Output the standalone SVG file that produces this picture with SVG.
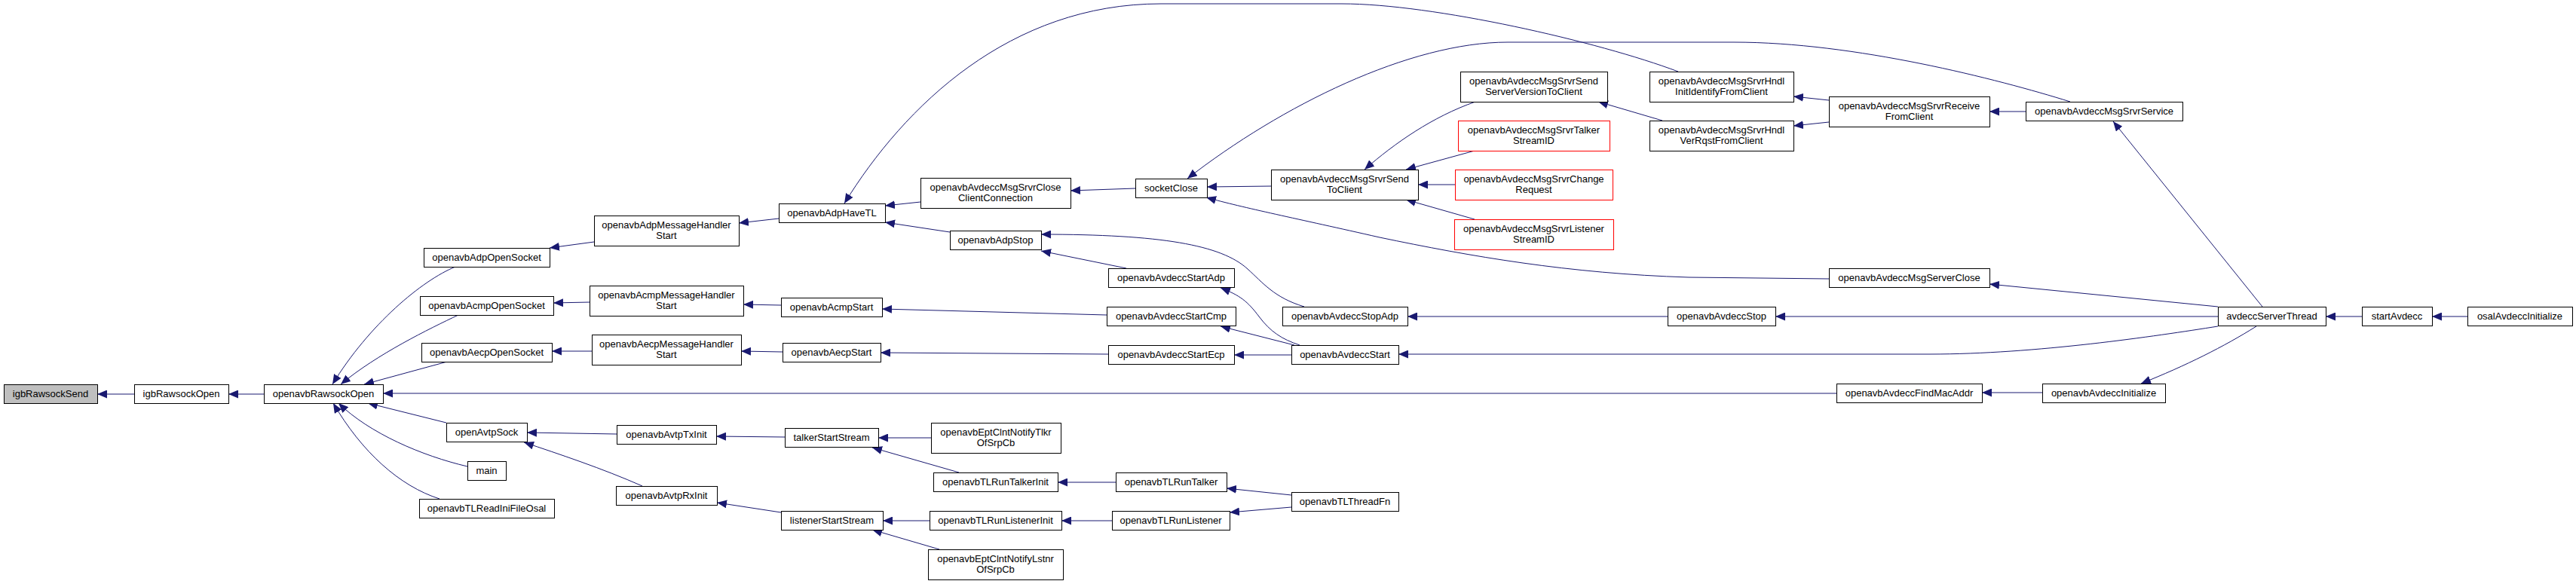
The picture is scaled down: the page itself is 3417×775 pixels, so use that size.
<svg xmlns="http://www.w3.org/2000/svg" width="3417" height="775" viewBox="0 0 3417 775">
<defs>
<marker id="a" viewBox="0 0 13 11" refX="13" refY="5.5" markerWidth="13" markerHeight="11" markerUnits="userSpaceOnUse" orient="auto">
<path d="M0,0 L13,5.5 L0,11 z" fill="#191970"/>
</marker>
<style>
.n rect{fill:#fff;stroke:#000;stroke-width:1}
.n.r rect{stroke:#ff0000}
.n.g rect{fill:#bfbfbf}
.n text{font-family:"Liberation Sans",Arial,sans-serif;font-size:13px;text-anchor:middle;fill:#000}
.e path{fill:none;stroke:#191970;stroke-width:1;marker-end:url(#a)}
</style>
</defs>
<rect width="3417" height="775" fill="#fff"/>
<g class="e" id="edges">
<path d="M178,523 L129,523"/>
<path d="M350,523 L303,523"/>
<path d="M604,354 C560,372 490,430 441,510"/>
<path d="M608,418 C570,436 500,470 452,510"/>
<path d="M593,480 L483,510"/>
<path d="M2436,522 L508,522"/>
<path d="M592,561 L488,535"/>
<path d="M620,619 C560,605 490,575 449,535"/>
<path d="M583,662 C530,645 480,600 442,535"/>
<path d="M788,321 L729,329"/>
<path d="M782,401 L734,402"/>
<path d="M785,466 L732,466"/>
<path d="M1033,290 L980,296"/>
<path d="M1036,405 L986,404"/>
<path d="M1038,467 L983,466"/>
<path d="M818,576 L699,574"/>
<path d="M852,645 C800,622 740,602 695,587"/>
<path d="M1041,580 L950,579"/>
<path d="M1036,680 L951,667"/>
<path d="M1221,268 L1174,273"/>
<path d="M1260,308 L1174,295"/>
<path d="M2226,95 C2120,55 1900,5 1780,5 L1540,5 C1340,5 1200,140 1120,270"/>
<path d="M1506,250 L1420,253"/>
<path d="M1730,407 C1690,395 1675,375 1655,357 C1620,325 1540,311 1381,311"/>
<path d="M1494,356 L1381,333"/>
<path d="M1686,247 L1601,248"/>
<path d="M2426,370 L2240,368 C2080,363 1950,340 1830,315 C1720,290 1650,276 1600,262"/>
<path d="M2746,135 C2650,105 2460,56 2300,56 L2000,56 C1870,56 1700,140 1575,237"/>
<path d="M1957,135 C1900,155 1850,190 1810,225"/>
<path d="M1956,200 L1865,225"/>
<path d="M1930,245 L1881,245"/>
<path d="M1956,291 L1865,265"/>
<path d="M2205,160 L2120,135"/>
<path d="M2426,133 L2379,128"/>
<path d="M2426,162 L2379,167"/>
<path d="M2687,148 L2639,148"/>
<path d="M3001,407 L2803,161"/>
<path d="M2942,407 L2639,377"/>
<path d="M2942,420 L2355,420"/>
<path d="M2942,433 C2860,446 2700,470 2560,470 L1855,470"/>
<path d="M2709,521 L2629,521"/>
<path d="M2993,433 C2950,460 2900,485 2840,509"/>
<path d="M3133,420 L3085,420"/>
<path d="M3273,420 L3226,420"/>
<path d="M2212,420 L1867,420"/>
<path d="M1724,458 C1700,450 1685,440 1670,420 C1655,400 1645,392 1619,382"/>
<path d="M1717,458 L1619,433"/>
<path d="M1713,471 L1637,471"/>
<path d="M1468,418 L1170,410"/>
<path d="M1470,470 L1168,468"/>
<path d="M1235,581 L1165,581"/>
<path d="M1272,627 L1157,594"/>
<path d="M1480,640 L1403,640"/>
<path d="M1713,657 L1627,648"/>
<path d="M1233,691 L1171,691"/>
<path d="M1246,729 L1157,703"/>
<path d="M1475,691 L1408,691"/>
<path d="M1713,673 L1631,680"/>
</g>
<g class="n g" id="igbRawsockSend"><rect x="5.5" y="510.5" width="124" height="25"/><text x="67" y="527">igbRawsockSend</text></g>
<g class="n" id="igbRawsockOpen"><rect x="178.5" y="510.5" width="125" height="25"/><text x="240.5" y="527">igbRawsockOpen</text></g>
<g class="n" id="openavbRawsockOpen"><rect x="350.5" y="510.5" width="158" height="25"/><text x="429" y="527">openavbRawsockOpen</text></g>
<g class="n" id="openavbAdpOpenSocket"><rect x="562.5" y="329.5" width="167" height="25"/><text x="645.5" y="346">openavbAdpOpenSocket</text></g>
<g class="n" id="openavbAcmpOpenSocket"><rect x="557.5" y="393.5" width="177" height="25"/><text x="645.5" y="410">openavbAcmpOpenSocket</text></g>
<g class="n" id="openavbAecpOpenSocket"><rect x="559.5" y="455.5" width="173" height="25"/><text x="645.5" y="472">openavbAecpOpenSocket</text></g>
<g class="n" id="openAvtpSock"><rect x="592.5" y="561.5" width="107" height="25"/><text x="645.5" y="578">openAvtpSock</text></g>
<g class="n" id="main"><rect x="620.5" y="612.5" width="51" height="25"/><text x="645.5" y="629">main</text></g>
<g class="n" id="openavbTLReadIniFileOsal"><rect x="556.5" y="662.5" width="179" height="25"/><text x="645.5" y="679">openavbTLReadIniFileOsal</text></g>
<g class="n" id="openavbAdpMessageHandlerStart"><rect x="788.5" y="286.5" width="192" height="40"/><text x="884" y="302.5">openavbAdpMessageHandler</text><text x="884" y="316.5">Start</text></g>
<g class="n" id="openavbAcmpMessageHandlerStart"><rect x="782.5" y="379.5" width="204" height="40"/><text x="884" y="395.5">openavbAcmpMessageHandler</text><text x="884" y="409.5">Start</text></g>
<g class="n" id="openavbAecpMessageHandlerStart"><rect x="785.5" y="444.5" width="198" height="40"/><text x="884" y="460.5">openavbAecpMessageHandler</text><text x="884" y="474.5">Start</text></g>
<g class="n" id="openavbAvtpTxInit"><rect x="818.5" y="564.5" width="132" height="25"/><text x="884" y="581">openavbAvtpTxInit</text></g>
<g class="n" id="openavbAvtpRxInit"><rect x="817.5" y="645.5" width="134" height="25"/><text x="884" y="662">openavbAvtpRxInit</text></g>
<g class="n" id="openavbAdpHaveTL"><rect x="1033.5" y="270.5" width="141" height="25"/><text x="1103.5" y="287">openavbAdpHaveTL</text></g>
<g class="n" id="openavbAcmpStart"><rect x="1036.5" y="395.5" width="134" height="25"/><text x="1103" y="412">openavbAcmpStart</text></g>
<g class="n" id="openavbAecpStart"><rect x="1038.5" y="455.5" width="130" height="25"/><text x="1103" y="472">openavbAecpStart</text></g>
<g class="n" id="talkerStartStream"><rect x="1041.5" y="568.5" width="124" height="25"/><text x="1103" y="585">talkerStartStream</text></g>
<g class="n" id="listenerStartStream"><rect x="1036.5" y="678.5" width="135" height="25"/><text x="1103.5" y="695">listenerStartStream</text></g>
<g class="n" id="openavbAvdeccMsgSrvrCloseClientConnection"><rect x="1221.5" y="236.5" width="199" height="40"/><text x="1320.5" y="252.5">openavbAvdeccMsgSrvrClose</text><text x="1320.5" y="266.5">ClientConnection</text></g>
<g class="n" id="openavbAdpStop"><rect x="1260.5" y="306.5" width="121" height="25"/><text x="1320.5" y="323">openavbAdpStop</text></g>
<g class="n" id="openavbEptClntNotifyTlkrOfSrpCb"><rect x="1235.5" y="561.5" width="172" height="40"/><text x="1321" y="577.5">openavbEptClntNotifyTlkr</text><text x="1321" y="591.5">OfSrpCb</text></g>
<g class="n" id="openavbTLRunTalkerInit"><rect x="1238.5" y="627.5" width="165" height="25"/><text x="1320.5" y="644">openavbTLRunTalkerInit</text></g>
<g class="n" id="openavbTLRunListenerInit"><rect x="1233.5" y="678.5" width="175" height="25"/><text x="1320.5" y="695">openavbTLRunListenerInit</text></g>
<g class="n" id="openavbEptClntNotifyLstnrOfSrpCb"><rect x="1231.5" y="729.5" width="179" height="40"/><text x="1320.5" y="745.5">openavbEptClntNotifyLstnr</text><text x="1320.5" y="759.5">OfSrpCb</text></g>
<g class="n" id="socketClose"><rect x="1506.5" y="237.5" width="95" height="25"/><text x="1553.5" y="254">socketClose</text></g>
<g class="n" id="openavbAvdeccStartAdp"><rect x="1470.5" y="356.5" width="167" height="25"/><text x="1553.5" y="373">openavbAvdeccStartAdp</text></g>
<g class="n" id="openavbAvdeccStartCmp"><rect x="1468.5" y="407.5" width="171" height="25"/><text x="1553.5" y="424">openavbAvdeccStartCmp</text></g>
<g class="n" id="openavbAvdeccStartEcp"><rect x="1470.5" y="458.5" width="167" height="25"/><text x="1553.5" y="475">openavbAvdeccStartEcp</text></g>
<g class="n" id="openavbTLRunTalker"><rect x="1480.5" y="627.5" width="147" height="25"/><text x="1553.5" y="644">openavbTLRunTalker</text></g>
<g class="n" id="openavbTLRunListener"><rect x="1475.5" y="678.5" width="156" height="25"/><text x="1553" y="695">openavbTLRunListener</text></g>
<g class="n" id="openavbAvdeccMsgSrvrSendToClient"><rect x="1686.5" y="225.5" width="195" height="40"/><text x="1783.5" y="241.5">openavbAvdeccMsgSrvrSend</text><text x="1783.5" y="255.5">ToClient</text></g>
<g class="n" id="openavbAvdeccStopAdp"><rect x="1701.5" y="407.5" width="166" height="25"/><text x="1784" y="424">openavbAvdeccStopAdp</text></g>
<g class="n" id="openavbAvdeccStart"><rect x="1713.5" y="458.5" width="142" height="25"/><text x="1784" y="475">openavbAvdeccStart</text></g>
<g class="n" id="openavbTLThreadFn"><rect x="1713.5" y="653.5" width="142" height="25"/><text x="1784" y="670">openavbTLThreadFn</text></g>
<g class="n" id="openavbAvdeccMsgSrvrSendServerVersionToClient"><rect x="1937.5" y="95.5" width="195" height="40"/><text x="2034.5" y="111.5">openavbAvdeccMsgSrvrSend</text><text x="2034.5" y="125.5">ServerVersionToClient</text></g>
<g class="n r" id="openavbAvdeccMsgSrvrTalkerStreamID"><rect x="1934.5" y="160.5" width="201" height="40"/><text x="2034.5" y="176.5">openavbAvdeccMsgSrvrTalker</text><text x="2034.5" y="190.5">StreamID</text></g>
<g class="n r" id="openavbAvdeccMsgSrvrChangeRequest"><rect x="1930.5" y="225.5" width="209" height="40"/><text x="2034.5" y="241.5">openavbAvdeccMsgSrvrChange</text><text x="2034.5" y="255.5">Request</text></g>
<g class="n r" id="openavbAvdeccMsgSrvrListenerStreamID"><rect x="1929.5" y="291.5" width="211" height="40"/><text x="2034.5" y="307.5">openavbAvdeccMsgSrvrListener</text><text x="2034.5" y="321.5">StreamID</text></g>
<g class="n" id="openavbAvdeccMsgSrvrHndlInitIdentifyFromClient"><rect x="2188.5" y="95.5" width="191" height="40"/><text x="2283.5" y="111.5">openavbAvdeccMsgSrvrHndl</text><text x="2283.5" y="125.5">InitIdentifyFromClient</text></g>
<g class="n" id="openavbAvdeccMsgSrvrHndlVerRqstFromClient"><rect x="2188.5" y="160.5" width="191" height="40"/><text x="2283.5" y="176.5">openavbAvdeccMsgSrvrHndl</text><text x="2283.5" y="190.5">VerRqstFromClient</text></g>
<g class="n" id="openavbAvdeccStop"><rect x="2212.5" y="407.5" width="143" height="25"/><text x="2283.5" y="424">openavbAvdeccStop</text></g>
<g class="n" id="openavbAvdeccMsgSrvrReceiveFromClient"><rect x="2426.5" y="128.5" width="213" height="40"/><text x="2532.5" y="144.5">openavbAvdeccMsgSrvrReceive</text><text x="2532.5" y="158.5">FromClient</text></g>
<g class="n" id="openavbAvdeccMsgServerClose"><rect x="2426.5" y="356.5" width="213" height="25"/><text x="2532.5" y="373">openavbAvdeccMsgServerClose</text></g>
<g class="n" id="openavbAvdeccFindMacAddr"><rect x="2436.5" y="509.5" width="193" height="25"/><text x="2532.5" y="526">openavbAvdeccFindMacAddr</text></g>
<g class="n" id="openavbAvdeccMsgSrvrService"><rect x="2687.5" y="135.5" width="208" height="25"/><text x="2791" y="152">openavbAvdeccMsgSrvrService</text></g>
<g class="n" id="openavbAvdeccInitialize"><rect x="2709.5" y="509.5" width="163" height="25"/><text x="2790.5" y="526">openavbAvdeccInitialize</text></g>
<g class="n" id="avdeccServerThread"><rect x="2942.5" y="407.5" width="143" height="25"/><text x="3013.5" y="424">avdeccServerThread</text></g>
<g class="n" id="startAvdecc"><rect x="3133.5" y="407.5" width="93" height="25"/><text x="3179.5" y="424">startAvdecc</text></g>
<g class="n" id="osalAvdeccInitialize"><rect x="3273.5" y="407.5" width="139" height="25"/><text x="3342.5" y="424">osalAvdeccInitialize</text></g>
</svg>
